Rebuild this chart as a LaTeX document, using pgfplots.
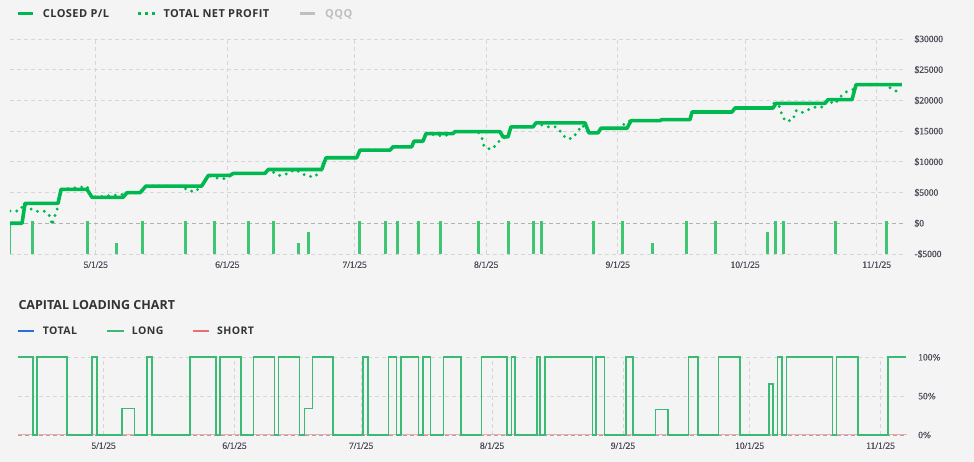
\documentclass[border=0pt]{standalone}
\usepackage{pgfplots}
\pgfplotsset{compat=1.18}
\usepackage{fontspec}
\setmainfont{Liberation Serif}
\newfontfamily\tfont[FakeBold=1.2]{Liberation Serif}
\newfontfamily\lab[LetterSpace=4]{Open Sans}
\newfontfamily\ttl{Open Sans}
\definecolor{bg}{HTML}{F4F4F4}
\definecolor{pl}{RGB}{0,184,80}
\definecolor{barc}{RGB}{64,198,114}
\definecolor{lng}{RGB}{58,186,116}
\definecolor{tot}{RGB}{40,110,220}
\definecolor{sht}{RGB}{235,110,115}
\definecolor{grd}{HTML}{D6D6D6}
\definecolor{txt}{HTML}{333333}
\definecolor{tick}{HTML}{4F4F5C}
\pgfplotsset{
  common/.style={
    scale only axis, anchor=south west,
    xmin=-20.2, xmax=190.2,
    axis line style={draw=none},
    major tick length=0pt,
    scaled y ticks=false,
    xtick={0,31,61,92,123,153,184},
    xticklabels={5/1/25,6/1/25,7/1/25,8/1/25,9/1/25,10/1/25,11/1/25},
    yticklabel pos=right,
    grid=major,
    major grid style={draw=grd, line width=0.8pt, dash pattern=on 4pt off 3pt},
    tick label style={font=\tfont\fontsize{9.5}{11}\selectfont, text=tick},
    yticklabel style={anchor=west, xshift=8pt},
    xticklabel style={yshift=-4pt},
  }
}
\begin{document}
\begin{tikzpicture}
\fill[bg] (0pt,0pt) rectangle (974pt,462pt);
% top legend
\draw[pl, line width=3pt] (18.3pt,448pt) -- (33.3pt,448pt);
\node[anchor=base west, inner sep=0, text=txt, font=\lab\bfseries\fontsize{11}{13}\selectfont] at (42.7pt,444pt) {CLOSED P/L};
\draw[pl, line width=3pt, dash pattern=on 3pt off 4pt] (138pt,448pt) -- (155pt,448pt);
\node[anchor=base west, inner sep=0, text=txt, font=\lab\bfseries\fontsize{11}{13}\selectfont] at (163.3pt,444pt) {TOTAL NET PROFIT};
\draw[black!25, line width=3pt] (300pt,448pt) -- (315pt,448pt);
\node[anchor=base west, inner sep=0, text=black!25, font=\lab\bfseries\fontsize{11}{13}\selectfont] at (325pt,444pt) {QQQ};
% lower title and legend
\node[anchor=base west, inner sep=0, text=txt, font=\ttl\bfseries\fontsize{12.5}{15}\selectfont] at (18.3pt,152.5pt) {CAPITAL LOADING CHART};
\draw[tot, line width=1.5pt] (18.3pt,131pt) -- (34pt,131pt);
\node[anchor=base west, inner sep=0, text=txt, font=\lab\bfseries\fontsize{10.5}{13}\selectfont] at (42.7pt,127.2pt) {TOTAL};
\draw[lng, line width=1.5pt] (106.7pt,131pt) -- (124pt,131pt);
\node[anchor=base west, inner sep=0, text=txt, font=\lab\bfseries\fontsize{10.5}{13}\selectfont] at (131.7pt,127.2pt) {LONG};
\draw[sht, line width=1.5pt] (193pt,131pt) -- (209pt,131pt);
\node[anchor=base west, inner sep=0, text=txt, font=\lab\bfseries\fontsize{10.5}{13}\selectfont] at (217pt,127.2pt) {SHORT};

% ---------- top chart ----------
\begin{axis}[common, at={(10pt,208pt)}, width=893pt, height=215pt,
  ymin=-5000, ymax=30000,
  ytick={-5000,0,5000,10000,15000,20000,25000,30000},
  yticklabels={-\$5000,\$0,\$5000,\$10000,\$15000,\$20000,\$25000,\$30000},
  unbounded coords=jump]
\draw[black!30, line width=0.8pt, dash pattern=on 4pt off 3pt] (axis cs:-20.2,0) -- (axis cs:190.2,0);
\draw[barc, line width=0.8pt, dash pattern=on 3pt off 2pt] (axis cs:-20.2,-5000) -- (axis cs:190.2,-5000);
% trade bars
\addplot[barc, line width=3pt] coordinates {
(-14.94,-5000) (-14.94,300) (-14.94,nan)
(-1.98,-5000) (-1.98,300) (-1.98,nan)
(4.95,-5000) (4.95,-3260) (4.95,nan)
(11.07,-5000) (11.07,300) (11.07,nan)
(21.04,-5000) (21.04,300) (21.04,nan)
(27.94,-5000) (27.94,300) (27.94,nan)
(35.95,-5000) (35.95,300) (35.95,nan)
(41.84,-5000) (41.84,300) (41.84,nan)
(47.89,-5000) (47.89,-3260) (47.89,nan)
(50.08,-5000) (50.08,-1470) (50.08,nan)
(62.26,-5000) (62.26,300) (62.26,nan)
(68.22,-5000) (68.22,300) (68.22,nan)
(71.14,-5000) (71.14,300) (71.14,nan)
(76.09,-5000) (76.09,300) (76.09,nan)
(81.18,-5000) (81.18,300) (81.18,nan)
(90.22,-5000) (90.22,300) (90.22,nan)
(97.20,-5000) (97.20,300) (97.20,nan)
(103.18,-5000) (103.18,300) (103.18,nan)
(104.97,-5000) (104.97,300) (104.97,nan)
(117.22,-5000) (117.22,300) (117.22,nan)
(124.15,-5000) (124.15,300) (124.15,nan)
(131.12,-5000) (131.12,-3260) (131.12,nan)
(139.22,-5000) (139.22,300) (139.22,nan)
(146.12,-5000) (146.12,300) (146.12,nan)
(158.21,-5000) (158.21,-1470) (158.21,nan)
(160.26,-5000) (160.26,300) (160.26,nan)
(162.14,-5000) (162.14,300) (162.14,nan)
(174.32,-5000) (174.32,300) (174.32,nan)
(186.34,-5000) (186.34,300) (186.34,nan)
};
\addplot[barc, line width=1pt] coordinates {(-20.1,-5000) (-20.1,0)};
% total net profit (dotted)
\addplot[pl, line width=3.2pt, line cap=round, dash pattern=on 0pt off 6.8pt] coordinates {
(-20.19,2000) (-18.07,2000) (-16.7,3250) (-15.48,2400) (-14.06,1950) (-11.94,1950)
(-10.77,1130) (-10.29,-320) (-9.82,810) (-9.12,2160) (-8.17,5520) (-2.05,6000)
(-0.87,4220) (6.43,4700) (7.37,4980) (10.44,4980) (11.85,6060) (20.56,6060)
(21.5,5360) (23.4,5140) (24.97,6060) (25.58,6980) (26.5,7790) (28.88,7300)
(30.86,7250) (32.3,8120) (39.88,8120) (40.6,8760) (43.25,7790) (45.14,8060)
(46.95,8760) (49.71,7680) (51.66,7580) (53.24,8760) (53.62,9950) (54.25,10660)
(61.48,10660) (62.26,11900) (69.33,11900) (70.04,12450) (74.44,12450)
(74.98,13360) (77.1,13360) (77.81,14600) (81.9,14170) (84.17,14600) (84.64,14930)
(90.06,14930) (91.0,13850) (91.5,12450) (93.1,12010) (94.5,12820) (95.48,13800)
(97.13,14070) (97.83,15690) (103.02,15690) (103.72,16340) (106.3,15690)
(108.4,15690) (109.6,14880) (110.8,13800) (112.2,13800) (113.4,14770)
(114.6,16000) (116.21,14720) (118.33,14720) (119.04,15470) (123.5,15470)
(125.0,16500) (126.11,16700) (132.94,16720) (133.42,16880) (140.02,16880)
(140.49,18120) (149.91,18120) (150.62,18770) (159.57,18770) (159.8,19590)
(161.2,18940) (161.7,17530) (162.6,16550) (164.3,16880) (164.99,18340)
(166.2,17960) (167.6,18390) (169.2,18880) (171.1,18940) (172.3,20010)
(174.2,19430) (175.3,20500) (176.8,21370) (178.4,21750) (179.13,22560)
(185.9,22560) (187.6,21860) (189.0,21370)
};
% closed P/L
\addplot[pl, line width=3.6pt, line join=round] coordinates {
(-20.19,0) (-17.36,0) (-16.66,3250) (-8.88,3250) (-8.17,5520) (-2.05,5520)
(-0.87,4220) (6.43,4220) (7.37,4980) (10.44,4980) (11.85,6060) (24.97,6060)
(26.53,7790) (31.64,7790) (32.41,8120) (39.88,8120) (40.66,8760) (53.24,8760)
(54.25,10660) (61.48,10660) (62.26,11900) (69.33,11900) (70.04,12450)
(74.44,12450) (74.98,13360) (77.1,13360) (77.81,14600) (84.17,14600)
(84.64,14930) (95.24,14930) (95.95,14070) (97.13,14070) (97.83,15690)
(103.02,15690) (103.72,16340) (115.27,16340) (116.21,14720) (118.33,14720)
(119.04,15470) (125.17,15470) (126.11,16700) (132.94,16720) (133.42,16880)
(140.02,16880) (140.49,18120) (149.91,18120) (150.62,18770) (159.57,18770)
(160.28,19530) (171.82,19530) (172.53,20120) (178.18,20120) (179.13,22560)
(189.93,22560)
};
\end{axis}

% ---------- capital loading chart ----------
\begin{axis}[common, at={(18.3pt,27pt)}, width=888.4pt, height=77.7pt,
  ymin=0, ymax=100, clip=false,
  ytick={0,50,100}, yticklabels={0\%,50\%,100\%}]
\draw[sht!60, line width=1pt] (axis cs:-20.2,0) -- (axis cs:190.2,0);
\draw[black!35, line width=0.8pt, dash pattern=on 4pt off 3pt] (axis cs:-20.2,0) -- (axis cs:190.2,0);
\addplot[tot, line width=1.7pt, const plot] coordinates {
(-20.2,100) (-16.7,0) (-15.7,100) (-8.7,0) (-2.7,100) (-1.5,0) (4.3,34) (7.3,0)
(10.3,100) (11.4,0) (20.4,100) (26.7,0) (27.5,100) (32.6,0) (35.5,100) (40.5,0)
(41.4,100) (46.4,0) (47.6,34) (49.5,100) (54.4,0) (61.4,100) (62.6,0) (67.5,100)
(69.4,0) (70.4,100) (74.6,0) (75.6,100) (77.4,0) (80.5,100) (84.7,0) (89.5,100)
(95.6,0) (96.6,100) (97.5,0) (102.6,100) (103.4,0) (104.5,100) (115.8,0)
(116.6,100) (118.6,0) (123.7,100) (125.4,0) (130.7,33) (133.7,0) (138.5,100)
(140.7,0) (145.6,100) (150.8,0) (157.6,66) (158.6,0) (159.6,100) (160.6,0)
(161.7,100) (172.6,0) (173.6,100) (178.7,0) (185.8,100) (190.0,100)
};
\addplot[lng, line width=1.7pt, const plot] coordinates {
(-20.2,100) (-16.7,0) (-15.7,100) (-8.7,0) (-2.7,100) (-1.5,0) (4.3,34) (7.3,0)
(10.3,100) (11.4,0) (20.4,100) (26.7,0) (27.5,100) (32.6,0) (35.5,100) (40.5,0)
(41.4,100) (46.4,0) (47.6,34) (49.5,100) (54.4,0) (61.4,100) (62.6,0) (67.5,100)
(69.4,0) (70.4,100) (74.6,0) (75.6,100) (77.4,0) (80.5,100) (84.7,0) (89.5,100)
(95.6,0) (96.6,100) (97.5,0) (102.6,100) (103.4,0) (104.5,100) (115.8,0)
(116.6,100) (118.6,0) (123.7,100) (125.4,0) (130.7,33) (133.7,0) (138.5,100)
(140.7,0) (145.6,100) (150.8,0) (157.6,66) (158.6,0) (159.6,100) (160.6,0)
(161.7,100) (172.6,0) (173.6,100) (178.7,0) (185.8,100) (190.0,100)
};
\end{axis}
\end{tikzpicture}
\end{document}
